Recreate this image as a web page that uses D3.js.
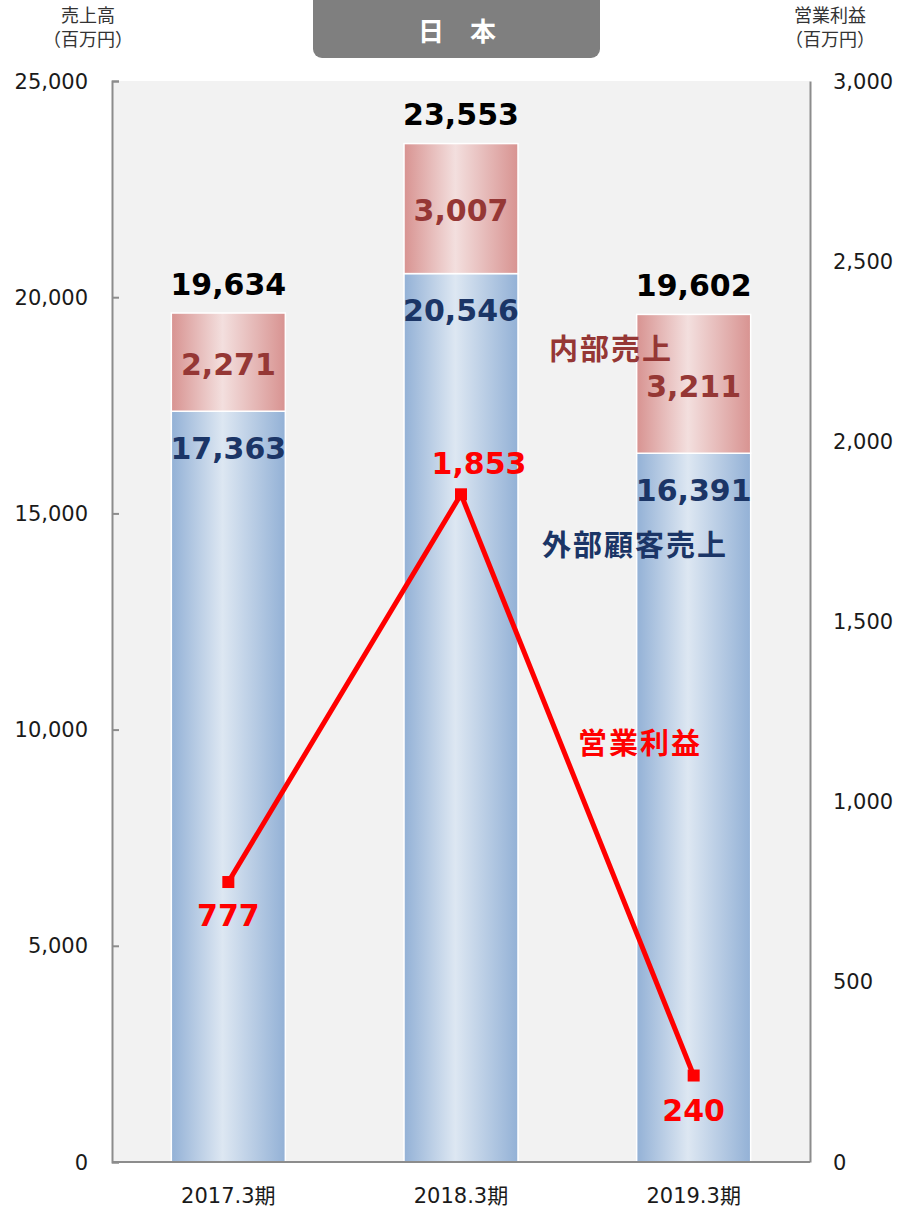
<!DOCTYPE html>
<html><head><meta charset="utf-8">
<script src="https://cdn.jsdelivr.net/npm/d3@7/dist/d3.min.js"></script>
<style>
html,body{margin:0;padding:0;background:#fff;}
svg{display:block;}
</style></head>
<body>
<svg id="chart" width="905" height="1211"></svg>
<script>
const categories = ["2017.3期", "2018.3期", "2019.3期"];
const externalSales = [17363, 20546, 16391];
const internalSales = [2271, 3007, 3211];
const totalSales = [19634, 23553, 19602];
const operatingProfit = [777, 1853, 240];
const leftTicks = [0, 5000, 10000, 15000, 20000, 25000];
const rightTicks = [0, 500, 1000, 1500, 2000, 2500, 3000];

const svg = d3.select("#chart");
const M = {left:112, right:810, top:81, bottom:1162};
const numFont = "'DejaVu Sans', Verdana, sans-serif";
const cjkFont = "'DejaVu Sans', 'Noto Sans CJK JP', sans-serif";

const x = d3.scaleBand().domain(categories).range([M.left, M.right]).paddingInner(0.51).paddingOuter(0.255);
const yL = d3.scaleLinear().domain([0, 25000]).range([M.bottom, M.top]);
const yR = d3.scaleLinear().domain([0, 3000]).range([M.bottom, M.top]);
const fmt = d3.format(",");

const defs = svg.append("defs");
function grad(id, edge, mid){
  const g = defs.append("linearGradient").attr("id", id).attr("x1","0%").attr("x2","100%").attr("y1","0%").attr("y2","0%");
  g.append("stop").attr("offset","0%").attr("stop-color", edge);
  g.append("stop").attr("offset","45%").attr("stop-color", mid);
  g.append("stop").attr("offset","100%").attr("stop-color", edge);
}
grad("gBlue", "#93b1d6", "#dde7f2");
grad("gRed", "#d89391", "#f3dfde");

// plot background
svg.append("rect").attr("x", M.left).attr("y", M.top).attr("width", M.right - M.left).attr("height", M.bottom - M.top).attr("fill", "#f2f2f2");

// bars
const bw = x.bandwidth();
svg.append("g").selectAll("rect").data(categories).join("rect")
  .attr("x", d => x(d)).attr("width", bw)
  .attr("y", (d,i) => yL(externalSales[i])).attr("height", (d,i) => yL(0) - yL(externalSales[i]))
  .attr("fill", "url(#gBlue)").attr("stroke", "#fff").attr("stroke-width", 1.5);
svg.append("g").selectAll("rect").data(categories).join("rect")
  .attr("x", d => x(d)).attr("width", bw)
  .attr("y", (d,i) => yL(externalSales[i] + internalSales[i])).attr("height", (d,i) => yL(0) - yL(internalSales[i]))
  .attr("fill", "url(#gRed)").attr("stroke", "#fff").attr("stroke-width", 1.5);

// axes
const axL = svg.append("g").attr("transform", `translate(${M.left},0)`)
  .call(d3.axisRight(yL).tickValues(leftTicks).tickSize(7).tickFormat(() => ""));
axL.select(".domain").attr("stroke", "#8c8c8c").attr("stroke-width", 2);
axL.selectAll(".tick line").attr("stroke", "#8c8c8c").attr("stroke-width", 2);
const axR = svg.append("g").attr("transform", `translate(${M.right},0)`)
  .call(d3.axisRight(yR).tickValues(rightTicks).tickSize(0).tickFormat(() => ""));
axR.select(".domain").attr("stroke", "#8c8c8c").attr("stroke-width", 2);
svg.append("line").attr("x1", M.left).attr("x2", M.right).attr("y1", M.bottom).attr("y2", M.bottom).attr("stroke", "#8c8c8c").attr("stroke-width", 2);

// tick labels
svg.append("g").selectAll("text").data(leftTicks).join("text")
  .attr("x", 88).attr("y", d => yL(d)).attr("dy", "0.36em").attr("text-anchor", "end")
  .attr("font-family", numFont).attr("font-size", 21).attr("fill", "#1a1a1a").text(d => fmt(d));
svg.append("g").selectAll("text").data(rightTicks).join("text")
  .attr("x", 833).attr("y", d => yR(d)).attr("dy", "0.36em").attr("text-anchor", "start")
  .attr("font-family", numFont).attr("font-size", 21).attr("fill", "#1a1a1a").text(d => fmt(d));
svg.append("g").selectAll("text").data(categories).join("text")
  .attr("x", d => x(d) + bw/2).attr("y", 1203).attr("text-anchor", "middle")
  .attr("font-family", cjkFont).attr("font-size", 21).attr("fill", "#1a1a1a").text(d => d);

// axis titles
function title(xp, lines){
  lines.forEach((t, i) => svg.append("text").attr("x", xp).attr("y", 22 + i*24).attr("text-anchor","middle")
    .attr("font-family", "'Noto Sans CJK JP', sans-serif").attr("font-size", 18).attr("fill", "#333").text(t));
}
title(88, ["売上高", "（百万円）"]);
title(830, ["営業利益", "（百万円）"]);

// title box
svg.append("rect").attr("x", 313).attr("y", -8).attr("width", 287).attr("height", 66).attr("rx", 9).attr("fill", "#7f7f7f");
svg.append("text").attr("x", 457).attr("y", 41).attr("text-anchor", "middle")
  .attr("font-family", "'Noto Sans CJK JP', sans-serif").attr("font-weight", "bold").attr("font-size", 26)
  .attr("fill", "#fff").text("日\u3000本");

// bar labels
const lbl = (g, data, yf, color) => g.selectAll("text").data(data).join("text")
  .attr("x", (d,i) => x(categories[i]) + bw/2).attr("y", yf).attr("dy", "0.36em").attr("text-anchor", "middle")
  .attr("font-family", numFont).attr("font-weight", "bold").attr("font-size", 30).attr("fill", color).text(d => fmt(d));
lbl(svg.append("g"), totalSales, (d) => yL(d) - 29, "#000");
lbl(svg.append("g"), internalSales, (d,i) => (yL(externalSales[i]) + yL(externalSales[i] + d)) / 2 + 2, "#953735");
lbl(svg.append("g"), externalSales, (d) => yL(d) + 37, "#1b3566");

// operating profit line
const line = d3.line().x((d,i) => x(categories[i]) + bw/2).y(d => yR(d));
svg.append("path").datum(operatingProfit).attr("d", line).attr("fill", "none").attr("stroke", "#ff0000").attr("stroke-width", 5).attr("stroke-linejoin", "round");
svg.append("g").selectAll("rect").data(operatingProfit).join("rect")
  .attr("x", (d,i) => x(categories[i]) + bw/2 - 6).attr("y", d => yR(d) - 6).attr("width", 12).attr("height", 12).attr("fill", "#ff0000");
const profitOffsets = [33, -31, 35];
const profitDx = [0, 18, 0];
svg.append("g").selectAll("text").data(operatingProfit).join("text")
  .attr("x", (d,i) => x(categories[i]) + bw/2 + profitDx[i]).attr("y", (d,i) => yR(d) + profitOffsets[i]).attr("dy", "0.36em").attr("text-anchor", "middle")
  .attr("font-family", numFont).attr("font-weight", "bold").attr("font-size", 30).attr("fill", "#ff0000").text(d => fmt(d));

// series annotations
const ann = [
  {t:"内部売上", x:611, y:350, c:"#953735"},
  {t:"外部顧客売上", x:635, y:546, c:"#1b3566"},
  {t:"営業利益", x:640, y:744, c:"#ff0000"}
];
svg.append("g").selectAll("text").data(ann).join("text")
  .attr("x", d => d.x).attr("y", d => d.y).attr("dy", "0.36em").attr("text-anchor", "middle")
  .attr("font-family", "'Noto Sans CJK JP', sans-serif").attr("font-weight", "bold").attr("font-size", 29)
  .attr("letter-spacing", 2).attr("fill", d => d.c).text(d => d.t);
</script>
</body></html>
